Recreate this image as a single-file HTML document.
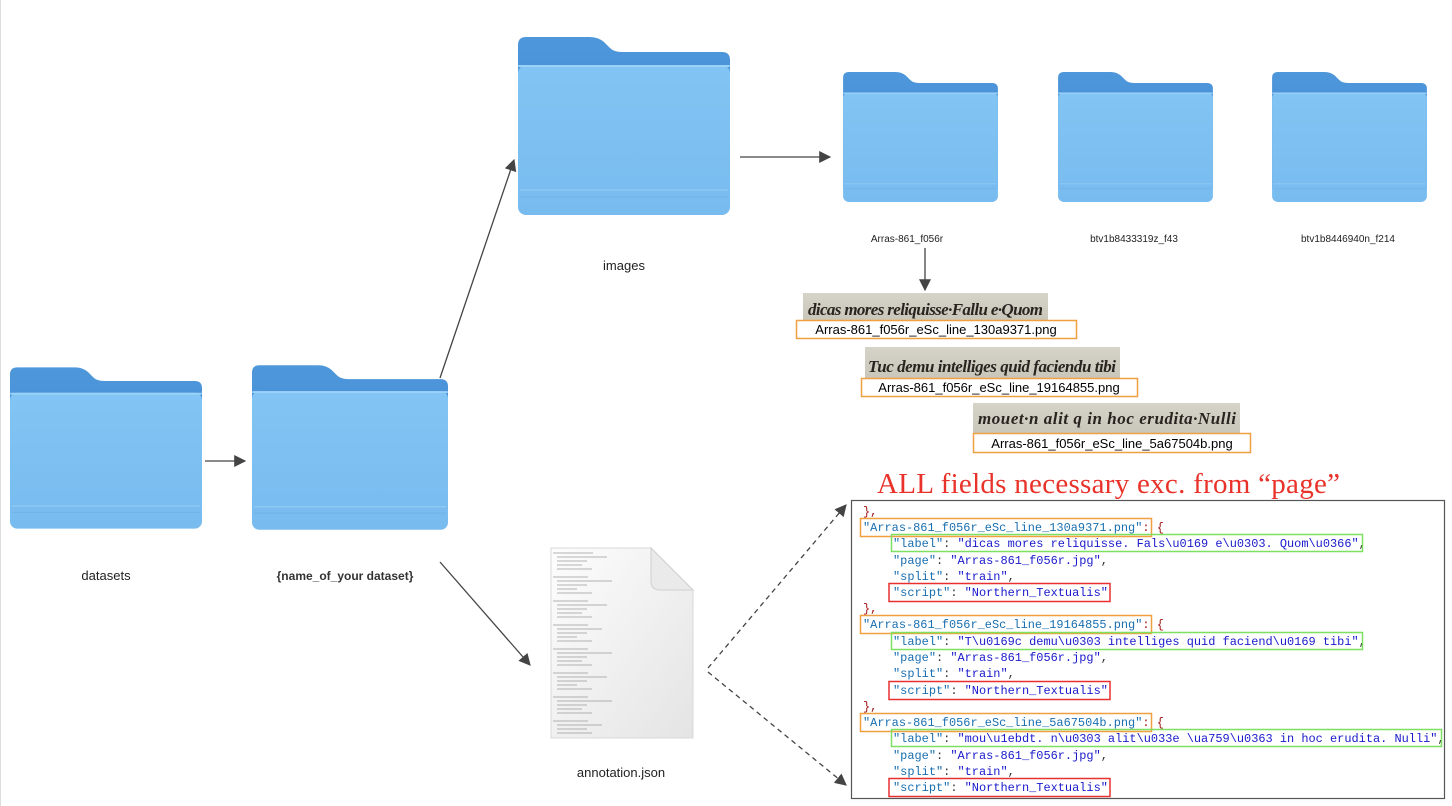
<!DOCTYPE html>
<html><head><meta charset="utf-8"><style>
html,body{margin:0;padding:0;background:#fff;}
svg{display:block;}
.m{font-family:"Liberation Mono",monospace;font-size:11.95px;}
</style></head><body>
<svg width="1452" height="806" viewBox="0 0 1452 806" xmlns="http://www.w3.org/2000/svg">
<defs>
<linearGradient id="bk" x1="0" y1="0" x2="0" y2="1"><stop offset="0" stop-color="#4f97db"/><stop offset="1" stop-color="#3f87cf"/></linearGradient>
<linearGradient id="fr" x1="0" y1="0" x2="0" y2="1"><stop offset="0" stop-color="#82c4f3"/><stop offset="1" stop-color="#78bbef"/></linearGradient>
<symbol id="f" viewBox="0 0 212 178">
<path d="M8 0 H72 Q80 0 86 5 L92 11 Q96 15 104 15 H204 Q212 15 212 23 V160 H0 V8 Q0 0 8 0Z" fill="url(#bk)"/>
<rect x="0" y="28" width="212" height="150" rx="8" fill="url(#fr)"/>
<rect x="0" y="28" width="212" height="2" rx="1" fill="#9bd2f7"/>
<line x1="2" y1="153" x2="210" y2="153" stroke="#8ccaf3" stroke-width="1.5"/>
<line x1="2" y1="160" x2="210" y2="160" stroke="#6fb2e6" stroke-width="1"/>
</symbol>
<marker id="ar" viewBox="0 0 10 10" refX="9" refY="5" markerWidth="12" markerHeight="12" markerUnits="userSpaceOnUse" orient="auto"><path d="M0 0 L10 5 L0 10Z" fill="#444"/></marker>
<linearGradient id="pg" x1="0" y1="0" x2="1" y2="1"><stop offset="0" stop-color="#fdfdfd"/><stop offset="1" stop-color="#e4e4e4"/></linearGradient>
<linearGradient id="li" x1="0" y1="0" x2="0" y2="1"><stop offset="0" stop-color="#d6d3c8"/><stop offset="1" stop-color="#c9c6ba"/></linearGradient>
</defs>

<line x1="0.5" y1="0" x2="0.5" y2="806" stroke="#ddd"/>

<use href="#f" x="10" y="367" width="192" height="162"/>
<use href="#f" x="252" y="365" width="196" height="165"/>
<use href="#f" x="518" y="37" width="212" height="178"/>
<use href="#f" x="843" y="72" width="155" height="130"/>
<use href="#f" x="1058" y="72" width="155" height="130"/>
<use href="#f" x="1272" y="72" width="155" height="130"/>

<g font-family="Liberation Sans,sans-serif" fill="#222" text-anchor="middle">
<text x="106" y="580" font-size="13">datasets</text>
<text x="345" y="580" font-size="12" font-weight="bold" fill="#333">{name_of_your dataset}</text>
<text x="624" y="270" font-size="13">images</text>
<text x="907" y="242" font-size="10">Arras-861_f056r</text>
<text x="1134" y="242" font-size="10">btv1b8433319z_f43</text>
<text x="1348" y="242" font-size="10">btv1b8446940n_f214</text>
<text x="621" y="777" font-size="13">annotation.json</text>
</g>

<g stroke="#444" stroke-width="1.3" fill="none">
<line x1="205" y1="461" x2="245" y2="461" marker-end="url(#ar)"/>
<line x1="440" y1="378" x2="514" y2="160" marker-end="url(#ar)"/>
<line x1="740" y1="157" x2="830" y2="157" marker-end="url(#ar)"/>
<line x1="440" y1="562" x2="530" y2="665" marker-end="url(#ar)"/>
<line x1="925" y1="248" x2="925" y2="290" marker-end="url(#ar)"/>
<line x1="708" y1="668" x2="846" y2="505" stroke-dasharray="5,4" marker-end="url(#ar)"/>
<line x1="708" y1="672" x2="846" y2="785" stroke-dasharray="5,4" marker-end="url(#ar)"/>
</g>

<!-- file icon -->
<path d="M551 548 H651 L693 590 V738 H551Z" fill="url(#pg)" stroke="#d8d8d8"/>
<path d="M651 548 L693 590 H660 Q651 590 651 581Z" fill="#eaeaea" stroke="#d0d0d0"/>
<g stroke="#9a9a9a" stroke-width="0.8">
<path d="M553 553h40M557 557h50M557 561h30M557 565h25M557 569h35M553 577h35M557 581h55M557 585h30M557 589h20M557 593h35M553 601h35M557 605h50M557 609h30M557 613h25M557 617h35M553 625h35M557 629h45M557 633h30M557 637h20M557 641h35M553 649h35M557 653h55M557 657h30M557 661h25M557 665h35M553 673h35M557 677h50M557 681h30M557 685h20M557 689h35M553 697h35M557 701h55M557 705h30M557 709h25M557 713h35M553 721h35M557 725h45M557 729h30M557 733h35"/>
</g>

<!-- line images -->
<rect x="803" y="293" width="245" height="27" fill="url(#li)"/>
<text x="808" y="315" font-family="Liberation Serif,serif" font-style="italic" font-weight="bold" font-size="17" fill="#2a2420" textLength="235">dicas mores reliquisse·Fallu e·Quom</text>
<rect x="796.5" y="320.5" width="280" height="18" fill="#fff" stroke="#f0a040" stroke-width="1.5"/>
<text x="936" y="334" font-family="Liberation Sans,sans-serif" font-size="13" text-anchor="middle">Arras-861_f056r_eSc_line_130a9371.png</text>

<rect x="865" y="347" width="255" height="31" fill="url(#li)"/>
<text x="868" y="372" font-family="Liberation Serif,serif" font-style="italic" font-weight="bold" font-size="17" fill="#2a2420" textLength="248">Tuc demu intelliges quid faciendu tibi</text>
<rect x="861.5" y="378.5" width="276" height="18" fill="#fff" stroke="#f0a040" stroke-width="1.5"/>
<text x="999" y="392" font-family="Liberation Sans,sans-serif" font-size="13" text-anchor="middle">Arras-861_f056r_eSc_line_19164855.png</text>

<rect x="973" y="403" width="267" height="30" fill="url(#li)"/>
<text x="978" y="424" font-family="Liberation Serif,serif" font-style="italic" font-weight="bold" font-size="17" fill="#2a2420" textLength="258">mouet·n alit q in hoc erudita·Nulli</text>
<rect x="973.5" y="433.5" width="277" height="19" fill="#fff" stroke="#f0a040" stroke-width="1.5"/>
<text x="1112" y="448" font-family="Liberation Sans,sans-serif" font-size="13" text-anchor="middle">Arras-861_f056r_eSc_line_5a67504b.png</text>

<!-- title -->
<text x="877" y="493" font-family="Liberation Serif,serif" font-size="29" fill="#e8322a" textLength="463">ALL fields necessary exc. from “page”</text>

<!-- code box -->
<rect x="851.5" y="500.5" width="593" height="298" fill="#fff" stroke="#555" stroke-width="1.2"/>
<g class="m">
<text x="863" y="515" fill="#a31515">},</text>
<text x="863" y="531"><tspan fill="#1a6fb0">"Arras-861_f056r_eSc_line_130a9371.png"</tspan><tspan fill="#a31515">: {</tspan></text>
<text x="893" y="547"><tspan fill="#1a6fb0">"label"</tspan><tspan fill="#333">: </tspan><tspan fill="#1a1acc">"dicas mores reliquisse. Fals\u0169 e\u0303. Quom\u0366"</tspan><tspan fill="#333">,</tspan></text>
<text x="893" y="564"><tspan fill="#1a6fb0">"page"</tspan><tspan fill="#333">: </tspan><tspan fill="#1a1acc">"Arras-861_f056r.jpg"</tspan><tspan fill="#333">,</tspan></text>
<text x="893" y="580"><tspan fill="#1a6fb0">"split"</tspan><tspan fill="#333">: </tspan><tspan fill="#1a1acc">"train"</tspan><tspan fill="#333">,</tspan></text>
<text x="893" y="596"><tspan fill="#1a6fb0">"script"</tspan><tspan fill="#333">: </tspan><tspan fill="#1a1acc">"Northern_Textualis"</tspan></text>
<text x="863" y="612" fill="#a31515">},</text>
<text x="863" y="628"><tspan fill="#1a6fb0">"Arras-861_f056r_eSc_line_19164855.png"</tspan><tspan fill="#a31515">: {</tspan></text>
<text x="893" y="645"><tspan fill="#1a6fb0">"label"</tspan><tspan fill="#333">: </tspan><tspan fill="#1a1acc">"T\u0169c demu\u0303 intelliges quid faciend\u0169 tibi"</tspan><tspan fill="#333">,</tspan></text>
<text x="893" y="661"><tspan fill="#1a6fb0">"page"</tspan><tspan fill="#333">: </tspan><tspan fill="#1a1acc">"Arras-861_f056r.jpg"</tspan><tspan fill="#333">,</tspan></text>
<text x="893" y="677"><tspan fill="#1a6fb0">"split"</tspan><tspan fill="#333">: </tspan><tspan fill="#1a1acc">"train"</tspan><tspan fill="#333">,</tspan></text>
<text x="893" y="694"><tspan fill="#1a6fb0">"script"</tspan><tspan fill="#333">: </tspan><tspan fill="#1a1acc">"Northern_Textualis"</tspan></text>
<text x="863" y="710" fill="#a31515">},</text>
<text x="863" y="726"><tspan fill="#1a6fb0">"Arras-861_f056r_eSc_line_5a67504b.png"</tspan><tspan fill="#a31515">: {</tspan></text>
<text x="893" y="742"><tspan fill="#1a6fb0">"label"</tspan><tspan fill="#333">: </tspan><tspan fill="#1a1acc">"mou\u1ebdt. n\u0303 alit\u033e \ua759\u0363 in hoc erudita. Nulli"</tspan><tspan fill="#333">,</tspan></text>
<text x="893" y="759"><tspan fill="#1a6fb0">"page"</tspan><tspan fill="#333">: </tspan><tspan fill="#1a1acc">"Arras-861_f056r.jpg"</tspan><tspan fill="#333">,</tspan></text>
<text x="893" y="775"><tspan fill="#1a6fb0">"split"</tspan><tspan fill="#333">: </tspan><tspan fill="#1a1acc">"train"</tspan><tspan fill="#333">,</tspan></text>
<text x="893" y="791"><tspan fill="#1a6fb0">"script"</tspan><tspan fill="#333">: </tspan><tspan fill="#1a1acc">"Northern_Textualis"</tspan></text>
</g>
<g fill="none" stroke-width="1.5">
<rect x="860.5" y="518.5" width="291" height="18" stroke="#f0a040"/>
<rect x="891.5" y="534.5" width="471" height="17" stroke="#7de060"/>
<rect x="889" y="583.5" width="221" height="18" stroke="#e83030"/>
<rect x="860.5" y="615.5" width="291" height="18" stroke="#f0a040"/>
<rect x="891.5" y="632.5" width="471" height="17" stroke="#7de060"/>
<rect x="889" y="681.5" width="221" height="18" stroke="#e83030"/>
<rect x="860.5" y="713.5" width="291" height="18" stroke="#f0a040"/>
<rect x="891.5" y="729.5" width="550" height="17" stroke="#7de060"/>
<rect x="889" y="778.5" width="221" height="18" stroke="#e83030"/>
</g>
</svg>
</body></html>
